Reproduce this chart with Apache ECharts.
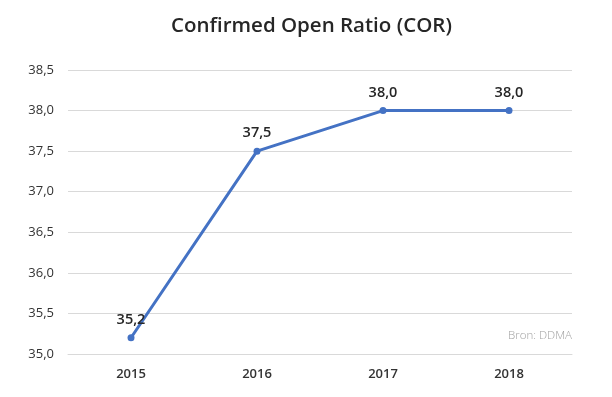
<!DOCTYPE html>
<html>
<head>
<meta charset="utf-8">
<script src="https://cdn.jsdelivr.net/npm/echarts@6/dist/echarts.min.js"></script>
<style>
html, body { margin: 0; padding: 0; background: #fff; }
#chart { width: 612px; height: 397px; }
</style>
</head>
<body>
<div id="chart"></div>
<script>
var years = ['2015', '2016', '2017', '2018'];
var corValues = [35.2, 37.5, 38.0, 38.0];
var yMin = 35, yMax = 38.5, yStep = 0.5;

var fmt = function (v) {
    return v.toFixed(1).replace('.', ',');
};

var chart = echarts.init(document.getElementById('chart'));
var option = {
    backgroundColor: '#ffffff',
    textStyle: { fontFamily: 'Open Sans' },
    title: {
        text: 'Confirmed Open Ratio (COR)',
        left: 166,
        top: 11,
        textStyle: { fontFamily: 'Open Sans', fontSize: 20.5, fontWeight: 600, color: '#262626' }
    },
    graphic: [{
        type: 'text',
        right: 40,
        top: 330,
        style: { text: 'Bron: DDMA', fill: '#a0a0a0', font: '300 11.5px "Open Sans"' }
    }],
    grid: { left: 68, right: 40, top: 70, bottom: 43 },
    xAxis: {
        type: 'category',
        data: years,
        boundaryGap: true,
        axisLine: { show: true, lineStyle: { color: '#d9d9d9' } },
        axisTick: { show: false },
        axisLabel: { color: '#333333', fontSize: 13, fontWeight: 600, margin: 14 }
    },
    yAxis: {
        type: 'value',
        min: yMin,
        max: yMax,
        interval: yStep,
        axisLine: { show: false },
        axisTick: { show: false },
        splitLine: { lineStyle: { color: '#d9d9d9' } },
        axisLabel: { color: '#333333', fontSize: 13, margin: 14, formatter: fmt }
    },
    series: [{
        type: 'line',
        data: corValues,
        symbol: 'circle',
        symbolSize: 7,
        lineStyle: { color: '#4472c4', width: 3 },
        itemStyle: { color: '#4472c4' },
        label: {
            show: true,
            position: 'top',
            distance: 7,
            color: '#262626',
            fontSize: 14.5,
            fontWeight: 600,
            formatter: function (p) { return fmt(p.value); }
        }
    }]
};
chart.setOption(option);
</script>
</body>
</html>
